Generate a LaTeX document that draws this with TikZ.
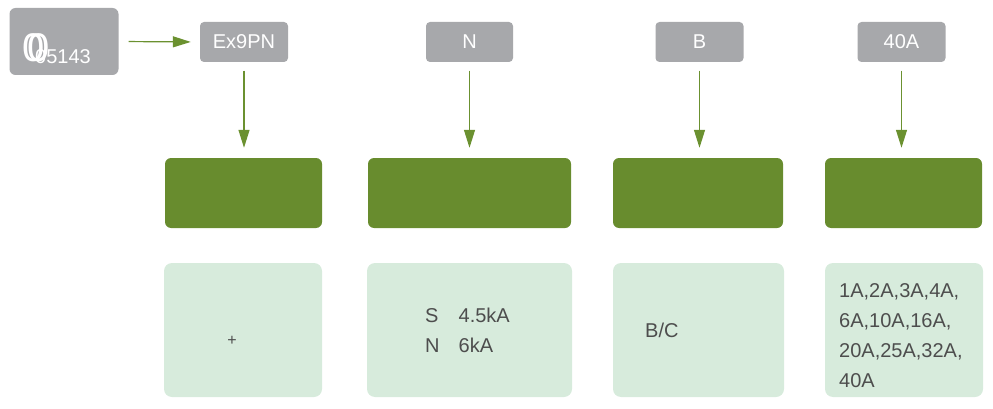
\documentclass[tikz,border=0pt]{standalone}
\usepackage{fontspec}
\setmainfont{Liberation Sans}
\usetikzlibrary{arrows.meta}
\definecolor{gbox}{HTML}{A7A8AB}
\definecolor{dgreen}{HTML}{688C2E}
\definecolor{lgreen}{HTML}{D7EBDC}
\definecolor{txt}{HTML}{4D4D4D}
\definecolor{agreen}{HTML}{6B9130}
\begin{document}
\begin{tikzpicture}[x=1pt,y=-1pt,
  greybox/.style={fill=gbox,rounded corners=4pt,inner sep=0pt,text=white,font=\fontsize{20}{24}\selectfont},
  darkbox/.style={fill=dgreen,rounded corners=6pt,inner sep=0pt,minimum height=70pt},
  lightbox/.style={fill=lgreen,rounded corners=8pt,inner sep=0pt,minimum height=134pt},
  txtlbl/.style={text=txt,inner sep=0pt,font=\fontsize{20}{30}\selectfont},
  conn/.style={draw=agreen,line width=1.2pt,-{Triangle[length=18pt,width=11pt]}}]
\useasboundingbox (0,0) rectangle (993,409);
% top row
\node[greybox,minimum width=109pt,minimum height=67pt,rounded corners=6pt] (g0) at (64,41.5) {};
\node[anchor=base west,text=white,inner sep=0pt,font=\fontsize{40}{40}\selectfont] (z1) at (22,62) {0};
\node[anchor=base west,text=white,inner sep=0pt,font=\fontsize{40}{40}\selectfont] (z2) at (27,62) {0};
\node[anchor=base west,text=white,inner sep=0pt,font=\fontsize{20}{24}\selectfont] (code) at (35,64) {05143};
\node[greybox,minimum width=88pt,minimum height=40pt] (g1) at (244,42) {Ex9PN};
\node[greybox,minimum width=87pt,minimum height=40pt] (g2) at (469.5,42) {N};
\node[greybox,minimum width=88pt,minimum height=40pt] (g3) at (699.5,42) {B};
\node[greybox,minimum width=88pt,minimum height=40pt] (g4) at (901.5,42) {40A};
% middle row
\node[darkbox,minimum width=157pt] (d1) at (243.5,193) {};
\node[darkbox,minimum width=203pt] (d2) at (469.5,193) {};
\node[darkbox,minimum width=170pt] (d3) at (698,193) {};
\node[darkbox,minimum width=157pt] (d4) at (903.5,193) {};
% bottom row
\node[lightbox,minimum width=158pt] (l1) at (243,330) {};
\node[lightbox,minimum width=205pt] (l2) at (469.5,330) {};
\node[lightbox,minimum width=171pt] (l3) at (698.5,330) {};
\node[lightbox,minimum width=158pt] (l4) at (904,330) {};
% texts
\node[txtlbl,font=\fontsize{16}{20}\selectfont] (t1) at (232,341) {+};
\node[txtlbl,anchor=base west] (t2) at (425,322) {\begin{tabular}[t]{@{}l@{\hspace{19pt}}l@{}}S & 4.5kA\\ N & 6kA\end{tabular}};
\node[txtlbl,anchor=base west] (t3) at (645,337) {B/C};
\node[txtlbl,anchor=base west] (t4) at (839,297) {\begin{tabular}[t]{@{}l@{}}1A,2A,3A,4A,\\6A,10A,16A,\\20A,25A,32A,\\40A\end{tabular}};
% connectors
\draw[conn,shorten <=10pt,shorten >=9pt] (g0.east) -- (g1.west);
\draw[conn,shorten <=8.5pt,shorten >=10pt] (g1.south) -- (g1.south |- d1.north);
\draw[conn,shorten <=8.5pt,shorten >=10pt] (g2.south) -- (g2.south |- d2.north);
\draw[conn,shorten <=8.5pt,shorten >=10pt] (g3.south) -- (g3.south |- d3.north);
\draw[conn,shorten <=8.5pt,shorten >=10pt] (g4.south) -- (g4.south |- d4.north);
\end{tikzpicture}
\end{document}
